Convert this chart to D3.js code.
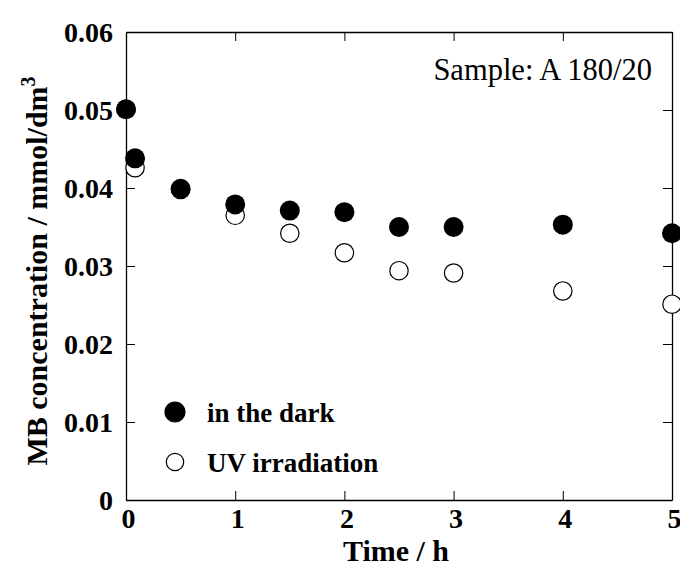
<!DOCTYPE html>
<html>
<head>
<meta charset="utf-8">
<script src="https://cdn.jsdelivr.net/npm/d3@7"></script>
<style>
  body { margin: 0; background: #fff; }
  svg text { font-family: "Liberation Serif", "Times New Roman", serif; }
</style>
</head>
<body>
<div id="chart"></div>
<script>
// data
const darkTime = [0, 0.083, 0.5, 1, 1.5, 2, 2.5, 3, 4, 5];
const darkConc = [0.0501, 0.0438, 0.0399, 0.0379, 0.0371, 0.0369, 0.0350, 0.0350, 0.0353, 0.0342];
const uvTime = [0, 0.083, 0.5, 1, 1.5, 2, 2.5, 3, 4, 5];
const uvConc = [0.0501, 0.0426, 0.0398, 0.0365, 0.0342, 0.0317, 0.0294, 0.0291, 0.0268, 0.0251];
const xTicks = [0, 1, 2, 3, 4, 5];
const yTicks = [0, 0.01, 0.02, 0.03, 0.04, 0.05, 0.06];

const width = 680, height = 569;
const margin = { top: 32, right: 8, bottom: 69, left: 126 };
const plotW = width - margin.left - margin.right;
const plotH = height - margin.top - margin.bottom;

const svg = d3.select("#chart").append("svg")
  .attr("width", width)
  .attr("height", height);

const g = svg.append("g")
  .attr("transform", `translate(${margin.left},${margin.top})`);

const x = d3.scaleLinear().domain([0, 5]).range([0, plotW]);
const y = d3.scaleLinear().domain([0, 0.06]).range([plotH, 0]);

const tickLen = 9;

// bottom
const xb = g.append("g")
  .attr("transform", `translate(0,${plotH})`)
  .call(d3.axisBottom(x).tickValues(xTicks).tickSizeInner(-tickLen).tickSizeOuter(0).tickFormat(d3.format("d")));
// top
g.append("g")
  .call(d3.axisTop(x).tickValues(xTicks).tickSizeInner(-tickLen).tickSizeOuter(0).tickFormat(""));
// left
const yl = g.append("g")
  .call(d3.axisLeft(y).tickValues(yTicks).tickSizeInner(-tickLen).tickSizeOuter(0)
    .tickFormat(d => d === 0 ? "0" : d3.format(".2f")(d)));
// right
g.append("g")
  .attr("transform", `translate(${plotW},0)`)
  .call(d3.axisRight(y).tickValues(yTicks).tickSizeInner(-tickLen).tickSizeOuter(0).tickFormat(""));

g.selectAll(".domain").attr("stroke", "#000").attr("stroke-width", 1.3);
g.selectAll(".tick line").attr("stroke", "#000").attr("stroke-width", 1);
g.selectAll(".tick text")
  .attr("fill", "#000")
  .attr("font-size", 28)
  .attr("font-weight", "bold")
  .style("font-family", "'Liberation Serif', serif");
xb.selectAll(".tick text").attr("y", 28).attr("dy", 0).attr("dx", 2);
yl.selectAll(".tick text").attr("x", -13).attr("dy", "0.35em");

// UV irradiation (open)
g.selectAll("circle.uv")
  .data(uvTime.map((t, i) => [t, uvConc[i]]))
  .join("circle")
  .attr("class", "uv")
  .attr("cx", d => x(d[0]))
  .attr("cy", d => y(d[1]))
  .attr("r", 9.2)
  .attr("fill", "#fff")
  .attr("stroke", "#000")
  .attr("stroke-width", 1.2);

// in the dark (filled)
g.selectAll("circle.dark")
  .data(darkTime.map((t, i) => [t, darkConc[i]]))
  .join("circle")
  .attr("class", "dark")
  .attr("cx", d => x(d[0]))
  .attr("cy", d => y(d[1]))
  .attr("r", 10)
  .attr("fill", "#000");

// legend
const legend = g.append("g");
const items = [
  { label: "in the dark", fill: "#000", y: 380 },
  { label: "UV irradiation", fill: "#fff", y: 430 }
];
items.forEach(it => {
  legend.append("circle")
    .attr("cx", 49).attr("cy", it.y)
    .attr("r", it.fill === "#000" ? 10 : 8.7)
    .attr("fill", it.fill)
    .attr("stroke", "#000").attr("stroke-width", 1.2);
  legend.append("text")
    .attr("x", 81).attr("y", it.y + 9.5)
    .attr("font-size", 27)
    .attr("font-weight", "bold")
    .text(it.label);
});

// sample label
g.append("text")
  .attr("x", plotW - 20)
  .attr("y", 48)
  .attr("text-anchor", "end")
  .attr("font-size", 30.5)
  .text("Sample: A 180/20");

// axis titles
svg.append("text")
  .attr("x", 396)
  .attr("y", 561)
  .attr("text-anchor", "middle")
  .attr("font-size", 30)
  .attr("font-weight", "bold")
  .text("Time / h");

const yt = svg.append("text")
  .attr("transform", `translate(47,271) rotate(-90)`)
  .attr("text-anchor", "middle")
  .attr("font-size", 30)
  .attr("font-weight", "bold");
yt.append("tspan").text("MB concentration / mmol/dm");
yt.append("tspan").attr("dy", -12).attr("font-size", 20).text("3");
</script>
</body>
</html>
